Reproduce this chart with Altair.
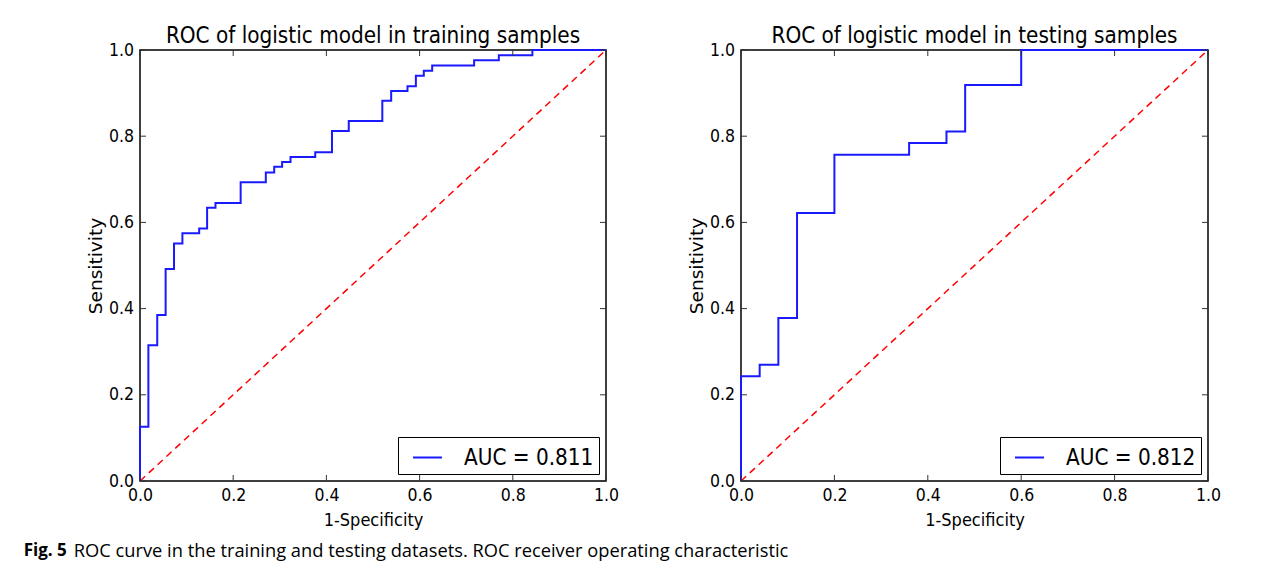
import altair as alt
import pandas as pd

# ---- data ----
train_fpr = [0.0, 0.0, 0.018, 0.037, 0.055, 0.073, 0.091, 0.127, 0.144, 0.162, 0.216, 0.270,
             0.288, 0.305, 0.323, 0.376, 0.412, 0.448, 0.520, 0.539, 0.574, 0.592, 0.609,
             0.627, 0.717, 0.770, 0.842, 1.0]
train_tpr = [0.0, 0.126, 0.315, 0.385, 0.492, 0.551, 0.575, 0.586, 0.634, 0.645, 0.693, 0.716,
             0.729, 0.740, 0.752, 0.763, 0.812, 0.835, 0.882, 0.905, 0.916, 0.940, 0.952,
             0.964, 0.976, 0.988, 1.0, 1.0]
test_fpr = [0.0, 0.0, 0.04, 0.08, 0.12, 0.20, 0.36, 0.44, 0.48, 0.60, 1.0]
test_tpr = [0.0, 0.243, 0.270, 0.378, 0.622, 0.757, 0.784, 0.811, 0.919, 1.0, 1.0]
diag = [0.0, 1.0]
tick_values = [0.0, 0.2, 0.4, 0.6, 0.8, 1.0]
panel_titles = ["ROC of logistic model in training samples",
                "ROC of logistic model in testing samples"]
auc_labels = ["AUC = 0.811", "AUC = 0.812"]
caption_bold = "Fig. 5"
caption_rest = "ROC curve in the training and testing datasets. ROC receiver operating characteristic"

FONT = "DejaVu Sans Condensed, DejaVu Sans"
CAP_FONT = "Open Sans"
W1, W2, H = 466, 467, 431
TL = 6

XAX = alt.Axis(values=tick_values, format=".1f", title="1-Specificity", ticks=False, domain=False,
               grid=False, labelPadding=5, titlePadding=8, labelFlush=False,
               labelFontSize=17.5, titleFontSize=18)
YAX = alt.Axis(values=tick_values, format=".1f", title="Sensitivity", ticks=False, domain=False,
               grid=False, labelPadding=6.5, titlePadding=3, labelFlush=False,
               labelFontSize=17.5, titleFontSize=18.5, titleFont="DejaVu Sans")


def panel(fpr, tpr, title, label, W):
    xs = alt.Scale(domain=[0, 1], nice=False, zero=False)
    ys = alt.Scale(domain=[0, 1], nice=False, zero=False)
    roc = pd.DataFrame({"fpr": fpr, "tpr": tpr, "series": label})
    dd = pd.DataFrame({"fpr": diag, "tpr": diag})
    tk = pd.DataFrame({"fpr": tick_values, "tpr": tick_values})

    dline = alt.Chart(dd).mark_line(color="#ff0000", strokeDash=[7, 5], strokeWidth=1.5).encode(
        x=alt.X("fpr:Q", scale=xs, axis=XAX),
        y=alt.Y("tpr:Q", scale=ys, axis=YAX),
    )
    line = alt.Chart(roc).mark_line(interpolate="step-after", strokeWidth=2).encode(
        x=alt.X("fpr:Q", scale=xs, axis=XAX),
        y=alt.Y("tpr:Q", scale=ys, axis=YAX),
        color=alt.Color("series:N", scale=alt.Scale(domain=[label], range=["#1a1aff"]),
                        legend=alt.Legend(title=None, orient="bottom-right", offset=7,
                                          strokeColor="black", fillColor="white", padding=5,
                                          cornerRadius=0, symbolType="stroke", symbolSize=841,
                                          symbolStrokeWidth=2, symbolStrokeColor="#1a1aff",
                                          labelFontSize=22.3, labelFont=FONT, labelColor="black",
                                          labelOffset=21, symbolOffset=9)),
    )
    bottom = alt.Chart(tk).mark_rule(color="#333333", strokeWidth=1).encode(
        x=alt.X("fpr:Q", scale=xs, axis=XAX), y=alt.value(H), y2=alt.value(H - TL))
    top = alt.Chart(tk).mark_rule(color="#333333", strokeWidth=1).encode(
        x=alt.X("fpr:Q", scale=xs, axis=XAX), y=alt.value(0), y2=alt.value(TL))
    left = alt.Chart(tk).mark_rule(color="#333333", strokeWidth=1).encode(
        y=alt.Y("tpr:Q", scale=ys, axis=YAX), x=alt.value(0), x2=alt.value(TL))
    right = alt.Chart(tk).mark_rule(color="#333333", strokeWidth=1).encode(
        y=alt.Y("tpr:Q", scale=ys, axis=YAX), x=alt.value(W - TL), x2=alt.value(W))
    return alt.layer(dline, line, bottom, top, left, right).properties(
        width=W, height=H,
        title=alt.Title(title, fontSize=22.3, font=FONT, fontWeight="normal", color="black", offset=-6),
    )


p1 = panel(train_fpr, train_tpr, panel_titles[0], auc_labels[0], W1)
p2 = panel(test_fpr, test_tpr, panel_titles[1], auc_labels[1], W2)

inner = alt.hconcat(p1, p2, spacing=66).resolve_scale(color="independent").resolve_legend(
    color="independent").properties(
    title=alt.Title(caption_rest, orient="bottom", anchor="start", fontSize=18.3, font=CAP_FONT,
                    fontWeight="normal", color="black", dx=-12, offset=13))

chart = alt.vconcat(inner).properties(
    title=alt.Title(caption_bold, orient="bottom", anchor="start", fontSize=17, font=CAP_FONT,
                    fontWeight="bold", color="black", dx=-50, dy=-22),
    padding={"left": 15, "top": 15, "right": 5, "bottom": 5},
    background="white",
).configure_view(stroke="black", strokeWidth=1.5).configure_axis(
    labelFont=FONT, titleFont=FONT, labelColor="black",
    titleColor="black", titleFontWeight="normal"
)

chart.save("out.html", embed_options={"renderer": "svg", "actions": False})
